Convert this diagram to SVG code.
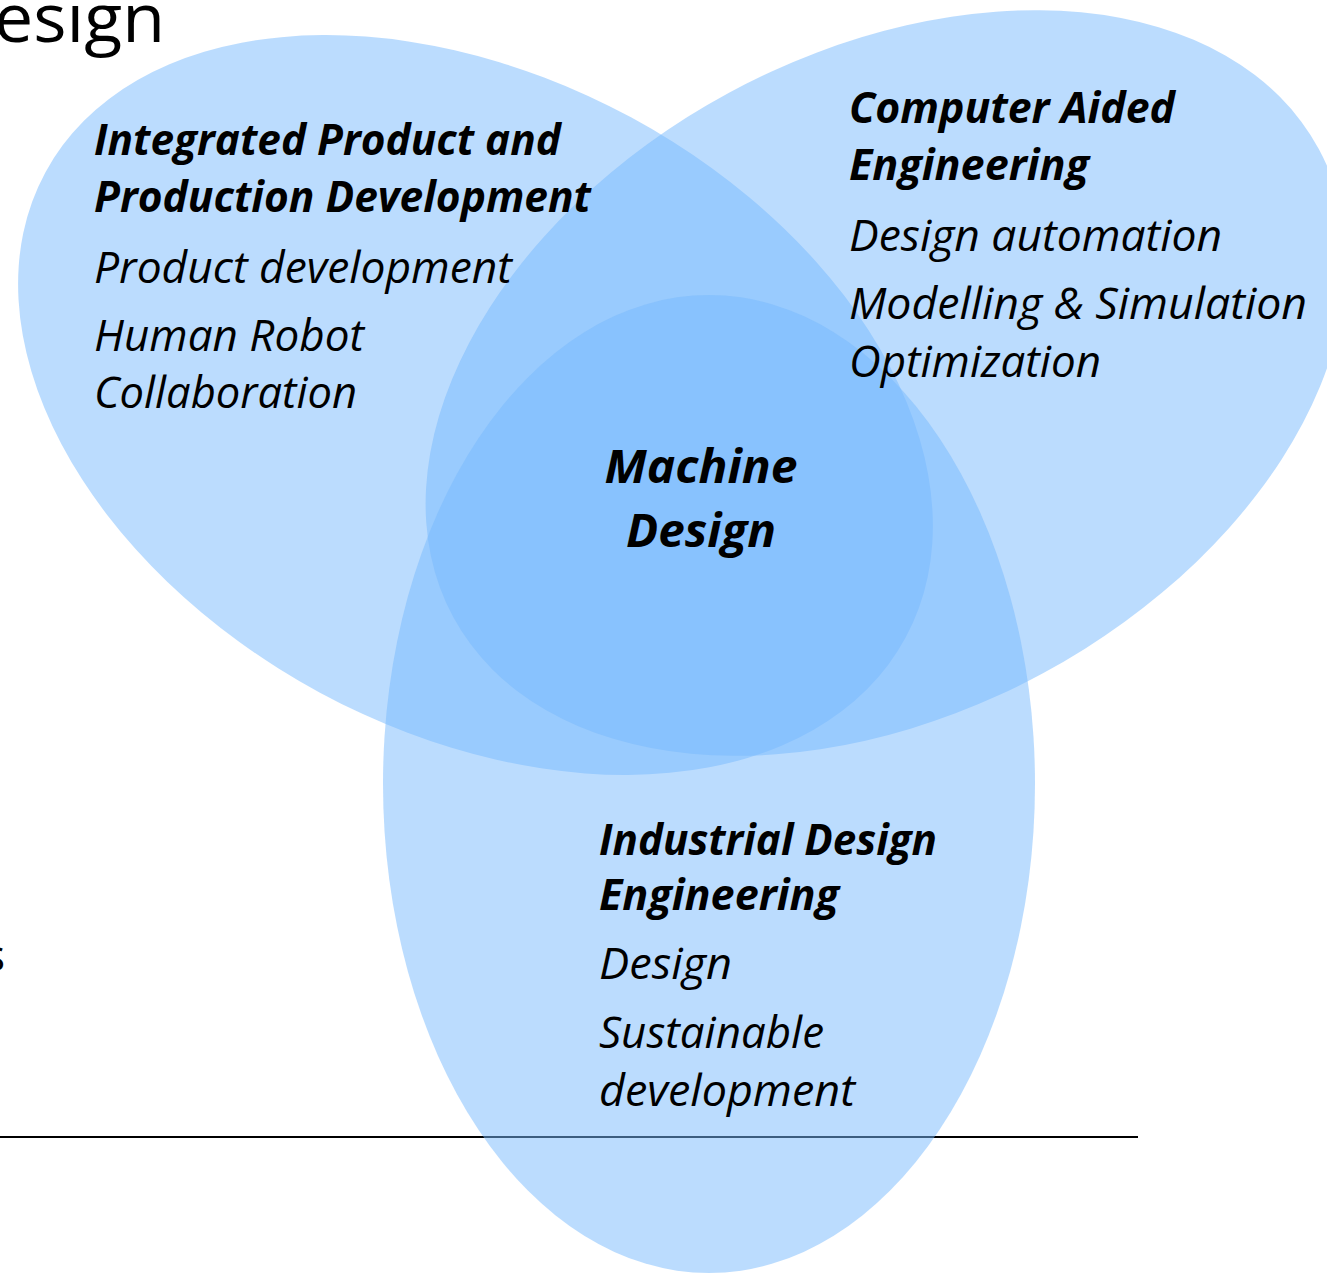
<svg xmlns="http://www.w3.org/2000/svg" width="1327" height="1273" viewBox="0 0 1327 1273">
  <style>
    .set { fill: #77b9fd; fill-opacity: 0.5; }
    text { font-family: "Open Sans", "Noto Sans", "Liberation Sans", sans-serif; fill: #000; }
    .head { font-size: 43px; font-weight: bold; font-style: italic; }
    .item { font-size: 43px; font-style: italic; }
    .core { font-size: 47px; font-weight: bold; font-style: italic; text-anchor: middle; }
    .title { font-size: 68px; }
    .body { font-size: 43px; }
  </style>
  <rect width="1327" height="1273" fill="#ffffff"/>

  <!-- slide heading, running off the left edge -->
  <text class="title" x="-6" y="42" textLength="171" lengthAdjust="spacingAndGlyphs">esign</text>
  <text class="body" x="-15" y="971" textLength="20" lengthAdjust="spacingAndGlyphs">s</text>

  <!-- footer rule -->
  <line x1="0" y1="1137" x2="1138" y2="1137" stroke="#000" stroke-width="2"/>

  <!-- the three overlapping research areas -->
  <g id="sets">
    <ellipse id="set-ippd" class="set" cx="475.5" cy="405" rx="489" ry="327" transform="rotate(28.4 475.5 405)"/>
    <ellipse id="set-cae" class="set" cx="886" cy="383" rx="492" ry="330" transform="rotate(-28.4 886 383)"/>
    <ellipse id="set-ide" class="set" cx="709" cy="784" rx="326" ry="489"/>
  </g>

  <g id="ippd">
    <text class="head" x="94" y="155" textLength="467" lengthAdjust="spacingAndGlyphs">Integrated Product and</text>
    <text class="head" x="94" y="212" textLength="497" lengthAdjust="spacingAndGlyphs">Production Development</text>
    <text class="item" x="94" y="283" textLength="418" lengthAdjust="spacingAndGlyphs">Product development</text>
    <text class="item" x="94" y="351" textLength="270" lengthAdjust="spacingAndGlyphs">Human Robot</text>
    <text class="item" x="94" y="408" textLength="263" lengthAdjust="spacingAndGlyphs">Collaboration</text>
  </g>

  <g id="cae">
    <text class="head" x="849" y="123" textLength="326" lengthAdjust="spacingAndGlyphs">Computer Aided</text>
    <text class="head" x="849" y="180" textLength="240" lengthAdjust="spacingAndGlyphs">Engineering</text>
    <text class="item" x="849" y="251" textLength="373" lengthAdjust="spacingAndGlyphs">Design automation</text>
    <text class="item" x="849" y="319" textLength="458" lengthAdjust="spacingAndGlyphs">Modelling &amp; Simulation</text>
    <text class="item" x="849" y="377" textLength="252" lengthAdjust="spacingAndGlyphs">Optimization</text>
  </g>

  <g id="ide">
    <text class="head" x="599" y="855" textLength="338" lengthAdjust="spacingAndGlyphs">Industrial Design</text>
    <text class="head" x="599" y="910" textLength="240" lengthAdjust="spacingAndGlyphs">Engineering</text>
    <text class="item" x="599" y="979" textLength="133" lengthAdjust="spacingAndGlyphs">Design</text>
    <text class="item" x="599" y="1048" textLength="225" lengthAdjust="spacingAndGlyphs">Sustainable</text>
    <text class="item" x="599" y="1106" textLength="256" lengthAdjust="spacingAndGlyphs">development</text>
  </g>

  <g id="machine-design">
    <text class="core" x="701" y="483" textLength="193" lengthAdjust="spacingAndGlyphs">Machine</text>
    <text class="core" x="701" y="547" textLength="150" lengthAdjust="spacingAndGlyphs">Design</text>
  </g>
</svg>
